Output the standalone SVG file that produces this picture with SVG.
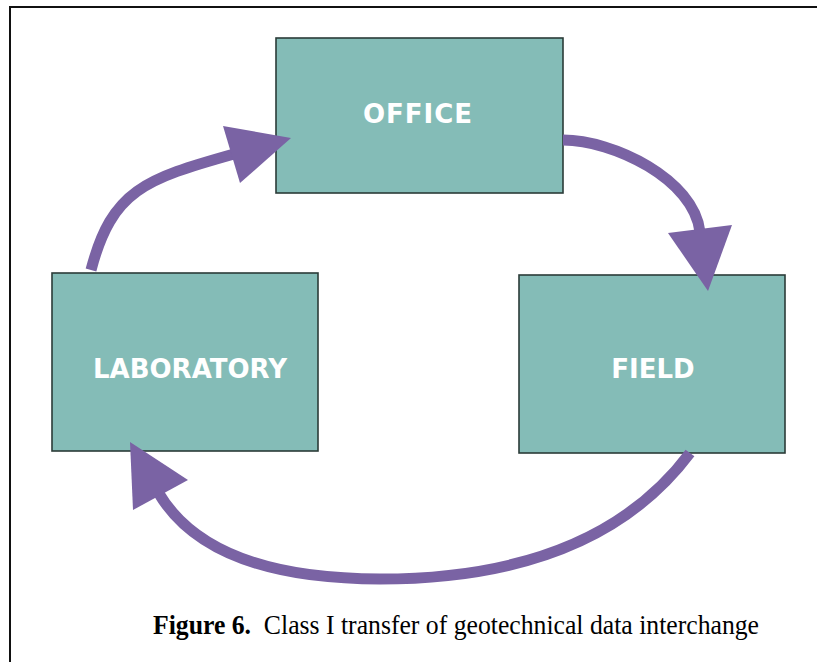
<svg xmlns="http://www.w3.org/2000/svg" width="817" height="662" viewBox="0 0 817 662">
  <style>
    .box { fill: #84bcb7; stroke: #2b3b38; stroke-width: 1.6; }
    .lbl { font-family: "DejaVu Sans", Verdana, sans-serif; font-weight: bold; font-size: 26px; fill: #ffffff; text-anchor: middle; }
    .shaft { fill: none; stroke: #7a63a4; stroke-width: 11; stroke-linecap: butt; }
    .head { fill: #7a63a4; }
    .cap { font-family: "Liberation Serif", "Times New Roman", serif; font-size: 28px; fill: #000; }
  </style>
  <rect width="817" height="662" fill="#ffffff"/>
  <g id="frame">
    <line x1="10" y1="7" x2="817" y2="7" stroke="#111" stroke-width="2"/>
    <line x1="10" y1="6" x2="10" y2="662" stroke="#111" stroke-width="2"/>
  </g>
  <g id="office">
    <rect class="box" x="276" y="38" width="287" height="155"/>
    <text class="lbl" x="418" y="123" letter-spacing="1">OFFICE</text>
  </g>
  <g id="laboratory">
    <rect class="box" x="52" y="273" width="266" height="178"/>
    <text class="lbl" x="190" y="378">LABORATORY</text>
  </g>
  <g id="field">
    <rect class="box" x="519" y="275" width="266" height="178"/>
    <text class="lbl" x="653" y="378">FIELD</text>
  </g>
  <g id="connectors">
    <path class="shaft" d="M 91 270 C 112 190, 145 179, 234 154"/>
    <polygon class="head" points="291,138 223,126 240,183"/>
    <path class="shaft" d="M 563 140 C 613 140, 694 179, 700 232"/>
    <polygon class="head" points="708,291 668,233 732,225"/>
    <path class="shaft" d="M 690 453 C 630 533, 530 579, 380 579 C 260 579, 190 547, 158 492"/>
    <polygon class="head" points="130,442 188,480 133,510"/>
  </g>
  <g id="caption">
    <text class="cap" x="153" y="634" textLength="606" lengthAdjust="spacingAndGlyphs"><tspan font-weight="bold">Figure 6.</tspan>&#160; Class I transfer of geotechnical data interchange</text>
  </g>
</svg>
